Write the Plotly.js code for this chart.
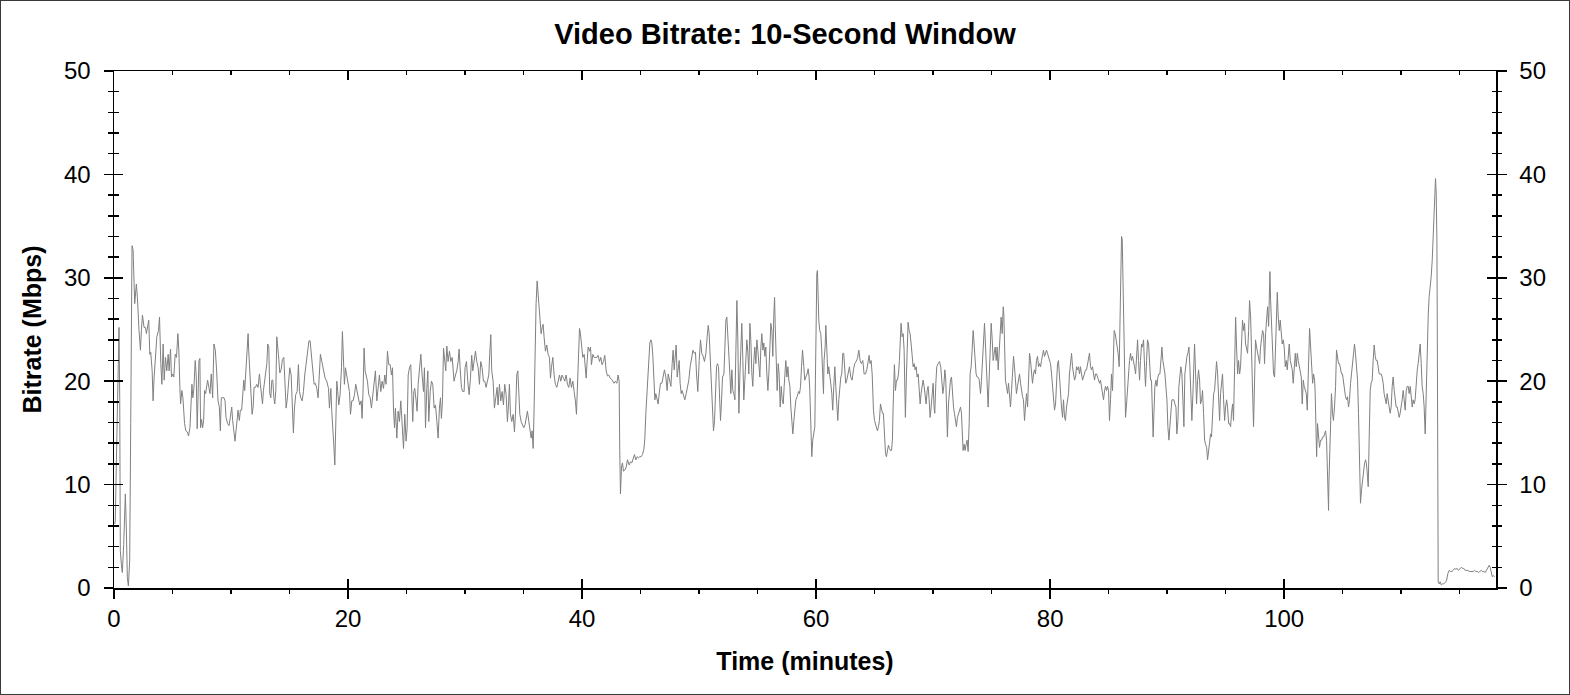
<!DOCTYPE html>
<html>
<head>
<meta charset="utf-8">
<script src="https://cdn.plot.ly/plotly-3.0.1.min.js"></script>
<style>
  body { margin: 0; background: #fff; }
  #chart { width: 1568px; height: 693px; border: 1px solid #3a3a3a; }
</style>
</head>
<body>
<div id="chart"></div>
<script>
// time in minutes, 10-second window bitrate in Mbps
var minutes = [
  0.06,0.11,0.2,0.34,0.43,0.49,0.54,0.63,0.71,0.83,0.97,1.06,1.14,1.23,1.34,1.43,1.54,1.63,1.77,1.91,2.0,2.14,2.26,2.34,2.43,2.57,2.69,2.77,2.89,2.97,3.06,3.14,3.26,3.34,3.43,3.54,3.66,3.8,3.89,4.0,4.09,4.2,4.29,4.4,4.51,4.63,4.71,4.83,4.91,5.03,5.11,5.23,5.34,5.46,5.54,5.63,5.69,5.8,5.89,6.03,6.14,6.26,6.37,6.49,6.57,6.66,6.74,6.83,6.94,7.03,7.11,7.17,7.26,7.34,7.4,7.49,7.57,7.66,7.74,7.83,7.91,8.0,8.11,8.2,8.31,8.43,8.54,8.66,8.77,8.89,9.0,9.09,9.17,9.29,9.4,9.49,9.57,9.71,9.83,9.94,10.06,10.14,10.23,10.34,10.43,10.51,10.6,10.71,10.8,10.91,11.0,11.09,11.17,11.26,11.37,11.46,11.51,11.6,11.69,11.8,11.89,11.97,12.09,12.2,12.31,12.43,12.51,12.6,12.69,12.77,12.89,12.97,13.06,13.14,13.23,13.31,13.4,13.49,13.57,13.66,13.74,13.83,13.91,
  14.05,14.17,14.28,14.39,14.51,14.59,14.71,14.82,14.91,15.02,15.14,15.22,15.33,15.42,15.53,15.65,15.76,15.85,15.96,16.08,16.19,16.30,16.42,16.53,16.66,16.76,16.87,16.99,17.10,17.21,17.33,17.44,17.56,17.64,17.76,17.90,18.04,18.18,18.33,18.41,18.53,18.61,18.70,18.78,18.87,18.95,19.04,19.12,19.21,19.32,19.44,19.52,19.61,19.69,19.78,19.89,20.01,20.12,20.21,20.32,20.43,20.55,20.66,20.78,20.89,21.00,21.12,21.20,21.29,21.37,21.46,21.55,21.66,21.77,21.89,22.00,22.12,22.23,22.34,22.46,22.57,22.68,22.80,22.91,23.03,23.14,23.25,23.37,23.48,23.60,23.71,23.80,23.88,23.97,24.05,24.17,24.28,24.39,24.51,24.62,24.74,24.85,24.96,25.05,25.14,25.25,25.36,25.45,25.53,25.62,25.70,25.82,25.90,25.99,26.10,26.22,26.33,26.45,26.53,26.62,26.73,26.82,26.90,27.02,27.13,27.24,27.36,27.47,27.59,27.70,27.81,27.90,27.98,28.07,28.16,28.27,28.35,28.44,28.55,28.67,28.78,28.90,
  29.06,29.18,29.29,29.41,29.49,29.58,29.69,29.80,29.92,30.0,30.12,30.23,30.35,30.46,30.57,30.66,30.77,30.89,31.0,31.12,31.23,31.34,31.46,31.57,31.69,31.8,31.91,32.03,32.11,32.2,32.28,32.4,32.51,32.63,32.74,32.82,32.94,33.05,33.17,33.28,33.39,33.51,33.62,33.71,33.79,33.88,33.99,34.11,34.22,34.31,34.42,34.51,34.59,34.68,34.79,34.9,35.02,35.13,35.25,35.33,35.45,35.56,35.65,35.73,35.82,35.9,35.99,36.07,36.16,36.24,36.33,36.41,36.5,36.59,36.67,36.76,36.87,36.98,37.1,37.21,37.3,37.38,37.5,37.61,37.72,37.84,37.95,38.07,38.18,38.29,38.41,38.52,38.64,38.75,38.86,38.98,39.09,39.21,39.32,39.43,39.52,39.6,39.69,39.78,39.86,39.95,40.06,40.18,40.26,40.35,40.43,40.52,40.63,40.72,40.8,40.92,41.03,41.14,41.26,41.37,41.49,41.6,41.71,41.83,41.94,42.06,42.17,42.28,42.4,42.51,42.63,42.74,42.85,42.97,43.08,43.17,43.22,43.28,43.37,43.45,43.54,43.65,43.77,43.88,
  44.02,44.14,44.25,44.37,44.48,44.59,44.71,44.82,44.94,45.05,45.16,45.28,45.36,45.45,45.53,45.62,45.7,45.79,45.88,45.96,46.05,46.13,46.22,46.3,46.42,46.5,46.59,46.7,46.82,46.93,47.04,47.16,47.27,47.36,47.47,47.59,47.7,47.78,47.87,47.96,48.04,48.13,48.21,48.3,48.38,48.47,48.55,48.67,48.78,48.9,49.01,49.12,49.24,49.35,49.47,49.58,49.69,49.78,49.89,50.01,50.12,50.23,50.35,50.46,50.58,50.69,50.78,50.86,50.95,51.06,51.15,51.23,51.32,51.4,51.49,51.57,51.66,51.74,51.83,51.92,52.0,52.12,52.2,52.29,52.37,52.46,52.54,52.63,52.71,52.8,52.88,52.97,53.06,53.14,53.23,53.31,53.4,53.48,53.57,53.65,53.74,53.82,53.91,53.99,54.08,54.17,54.25,54.34,54.42,54.51,54.59,54.68,54.76,54.85,54.94,55.02,55.11,55.19,55.28,55.36,55.45,55.53,55.62,55.7,55.79,55.88,55.96,56.05,56.13,56.22,56.3,56.39,56.45,56.5,56.59,56.67,56.76,56.84,56.93,57.02,57.1,57.19,57.27,57.36,57.41,57.5,57.59,57.67,57.76,57.84,57.93,58.01,58.1,58.18,58.27,58.38,58.5,58.58,58.67,58.75,58.84,
  58.95,59.03,59.12,59.23,59.32,59.4,59.46,59.52,59.57,59.63,59.71,59.8,59.89,59.94,60.0,60.06,60.11,60.17,60.23,60.31,60.4,60.48,60.57,60.63,60.68,60.77,60.83,60.91,61.0,61.08,61.17,61.25,61.34,61.42,61.51,61.6,61.68,61.77,61.85,61.94,62.02,62.11,62.19,62.28,62.36,62.45,62.53,62.62,62.73,62.85,62.96,63.08,63.19,63.3,63.42,63.53,63.65,63.76,63.87,63.99,64.1,64.22,64.33,64.44,64.53,64.61,64.7,64.79,64.84,64.9,64.99,65.07,65.16,65.24,65.33,65.41,65.5,65.58,65.67,65.75,65.84,65.93,66.01,66.1,66.18,66.27,66.35,66.44,66.52,66.58,66.64,66.69,66.78,66.87,66.95,67.04,67.12,67.21,67.26,67.35,67.44,67.52,67.58,67.63,67.72,67.81,67.86,67.95,68.03,68.12,68.2,68.29,68.38,68.46,68.55,68.63,68.72,68.8,68.89,68.97,69.06,69.14,69.23,69.32,69.4,69.49,69.57,69.66,69.74,69.83,69.91,70.0,70.08,70.14,70.23,70.31,70.43,70.54,70.65,70.74,70.83,70.91,71.0,71.08,71.17,71.22,71.31,71.4,71.48,71.57,71.65,71.74,71.82,71.91,71.99,72.08,72.16,72.25,72.34,72.42,72.48,72.56,72.65,72.73,72.82,72.9,72.99,73.08,73.16,73.25,73.33,73.42,73.5,73.59,73.67,73.76,
  73.82,73.93,74.05,74.13,74.22,74.3,74.39,74.48,74.56,74.65,74.7,74.79,74.87,74.96,75.05,75.13,75.22,75.3,75.39,75.47,75.56,75.64,75.73,75.81,75.9,75.99,76.04,76.1,76.18,76.27,76.36,76.44,76.53,76.61,76.7,76.78,76.87,76.95,77.04,77.12,77.21,77.3,77.38,77.47,77.55,77.64,77.72,77.81,77.89,77.98,78.07,78.15,78.24,78.32,78.41,78.49,78.58,78.66,78.75,78.83,78.92,79.01,79.09,79.18,79.26,79.35,79.43,79.52,79.6,79.69,79.77,79.86,79.95,80.03,80.12,80.2,80.29,80.37,80.46,80.54,80.63,80.71,80.8,80.89,80.97,81.06,81.14,81.23,81.31,81.4,81.48,81.57,81.65,81.74,81.83,81.91,82.0,82.08,82.17,82.25,82.34,82.42,82.51,82.59,82.68,82.77,82.85,82.94,83.02,83.11,83.19,83.28,83.36,83.45,83.53,83.62,83.71,83.79,83.88,83.96,84.05,84.13,84.22,84.3,84.39,84.48,84.56,84.65,84.73,84.82,84.9,84.99,85.07,85.16,85.24,85.33,85.42,85.47,85.56,85.64,85.73,85.81,85.9,85.99,86.04,86.1,86.16,86.21,86.27,86.33,86.38,86.44,86.53,86.61,86.7,86.78,86.87,86.95,87.04,87.12,87.21,87.3,87.38,87.47,87.55,87.64,87.72,87.81,87.89,87.98,88.07,88.15,88.24,88.32,88.41,88.49,88.58,88.66,88.75,
  88.8,88.87,88.95,89.04,89.12,89.21,89.29,89.38,89.46,89.55,89.63,89.72,89.81,89.89,89.98,90.06,90.15,90.23,90.32,90.4,90.49,90.57,90.66,90.75,90.83,90.92,91.0,91.09,91.17,91.26,91.34,91.43,91.51,91.6,91.69,91.77,91.86,91.94,92.03,92.11,92.2,92.28,92.34,92.43,92.51,92.6,92.68,92.77,92.85,92.94,93.02,93.11,93.2,93.28,93.37,93.45,93.54,93.62,93.71,93.79,93.88,93.97,94.05,94.14,94.22,94.31,94.39,94.48,94.56,94.65,94.73,94.82,94.91,94.99,95.08,95.16,95.25,95.33,95.42,95.5,95.59,95.67,95.76,95.85,95.93,96.02,96.1,96.19,96.27,96.36,96.44,96.53,96.61,96.7,96.79,96.87,96.96,97.04,97.13,97.21,97.3,97.38,97.47,97.55,97.64,97.73,97.81,97.9,97.98,98.07,98.15,98.24,98.32,98.41,98.5,98.58,98.67,98.72,98.78,98.84,98.92,99.01,99.09,99.18,99.26,99.35,99.41,99.49,99.58,99.66,99.75,99.83,99.92,100.0,100.09,100.18,100.26,100.35,100.43,100.52,100.6,100.69,100.77,100.86,100.95,101.03,101.12,101.2,101.29,101.37,101.46,101.54,101.63,101.71,101.8,101.89,101.97,102.06,102.11,102.17,102.26,102.34,102.43,102.51,102.6,102.65,102.71,102.77,102.85,102.94,103.02,103.11,103.2,103.28,103.37,103.45,103.54,103.62,103.71,103.79,
  103.82,103.9,103.99,104.04,104.13,104.21,104.3,104.39,104.47,104.56,104.64,104.73,104.81,104.9,104.98,105.07,105.15,105.24,105.33,105.41,105.5,105.58,105.67,105.75,105.84,105.92,106.01,106.09,106.18,106.27,106.35,106.44,106.52,106.61,106.69,106.78,106.86,106.95,107.03,107.12,107.18,107.26,107.35,107.43,107.52,107.6,107.69,107.78,107.86,107.95,108.03,108.12,108.2,108.29,108.37,108.46,108.54,108.63,108.72,108.8,108.89,108.97,109.06,109.14,109.23,109.31,109.4,109.49,109.57,109.66,109.74,109.83,109.91,110.0,110.08,110.17,110.25,110.34,110.43,110.51,110.6,110.68,110.77,110.85,110.94,111.02,111.11,111.19,111.28,111.37,111.45,111.54,111.62,111.71,111.79,111.88,111.96,112.05,112.13,112.22,112.31,112.39,112.48,112.56,112.65,112.73,112.82,112.88,112.93,112.99,113.05,113.08,113.1,113.13,113.16,113.25,113.33,113.42,113.53,113.64,113.76,113.87,113.99,114.1,114.21,114.33,114.44,114.56,114.67,114.78,114.9,115.01,115.13,115.24,115.35,115.47,115.58,115.7,115.81,115.92,116.04,116.15,116.27,116.38,116.49,116.61,116.72,116.84,116.95,117.06,117.18,117.29,117.41,117.52,117.6,117.69,117.78,117.86,117.98
];

var mbps = [
  6.2,6.5,12.0,21.7,25.2,18.4,3.6,2.3,1.5,4.2,9.1,5.5,1.0,0.2,2.6,15.9,33.1,32.7,27.5,29.4,28.1,24.9,23.0,24.9,26.4,25.2,25.2,24.6,25.2,25.9,22.6,22.8,21.0,18.1,20.4,22.0,24.3,24.9,26.2,21.7,19.7,23.6,20.1,22.3,21.0,22.6,21.0,23.1,20.4,20.7,20.4,22.6,22.3,24.6,23.0,19.4,17.8,19.1,18.4,15.9,15.2,15.1,14.7,15.5,17.2,19.7,18.4,19.3,22.0,20.4,15.4,19.1,22.0,22.2,15.5,16.3,15.5,16.2,19.1,18.8,19.7,20.1,19.4,18.8,20.7,18.4,23.6,23.0,21.0,18.1,17.5,15.2,18.4,18.4,18.4,18.1,16.5,15.9,15.7,16.5,17.5,16.2,14.9,14.2,15.2,15.9,17.2,16.2,17.2,17.2,18.4,20.1,19.1,21.0,23.6,24.6,23.0,21.0,19.4,16.8,17.5,19.4,19.4,19.7,19.4,20.7,19.7,18.4,17.8,19.1,20.4,20.7,21.7,23.6,23.3,18.8,18.4,20.1,20.1,18.4,17.8,19.1,24.3,
  22.6,20.8,21.1,22.1,22.3,20.0,17.4,18.4,20.3,21.3,20.6,17.7,15.0,17.4,18.7,19.0,21.6,19.0,18.4,18.1,19.0,20.6,21.6,22.9,23.9,23.9,22.3,20.6,19.7,19.8,19.3,18.4,21.3,22.6,21.9,21.0,20.3,20.0,19.3,17.4,19.3,17.1,15.8,13.9,11.9,15.5,20.0,19.0,17.7,18.7,21.3,24.8,22.6,19.7,21.3,20.6,19.7,19.0,16.8,18.1,18.1,18.7,19.7,19.0,18.1,17.7,18.1,16.4,19.3,23.2,21.0,20.6,20.0,18.7,18.4,17.4,18.7,19.7,21.0,18.1,19.3,20.6,19.0,20.0,19.3,20.6,19.7,22.9,21.6,21.6,20.6,21.3,17.4,15.5,17.4,14.5,17.1,16.1,18.1,15.1,13.5,16.8,14.2,15.5,20.6,21.3,21.6,18.7,16.1,19.0,19.3,18.1,17.1,19.7,21.0,22.6,20.6,19.0,21.3,15.5,19.3,21.0,16.1,19.0,20.0,19.7,17.4,17.7,16.1,14.5,17.4,18.4,16.4,18.1,23.2,21.9,21.0,23.4,21.9,22.9,21.9,22.3,
  20.0,20.6,21.0,21.9,23.1,21.3,19.4,19.0,19.0,21.3,21.9,20.0,18.7,20.3,22.5,21.0,21.9,22.9,21.9,21.3,19.7,21.9,21.3,20.0,20.0,19.4,20.0,20.6,22.7,24.5,21.0,20.0,17.4,18.7,19.4,17.7,19.7,18.1,19.0,17.7,19.7,18.7,16.1,17.7,19.7,16.8,16.1,16.8,15.1,16.8,20.6,21.0,19.0,16.8,16.1,15.8,15.5,15.8,16.8,17.1,16.1,15.2,14.5,15.2,13.5,17.4,24.2,27.5,29.7,28.5,27.2,25.9,24.6,25.2,25.5,24.2,22.9,23.5,22.6,22.3,20.3,21.3,22.3,20.6,19.7,19.4,20.0,20.6,20.0,20.6,20.3,20.0,20.6,19.7,19.4,20.3,19.4,20.0,19.0,18.1,16.8,19.7,23.6,25.1,24.6,23.3,22.3,22.6,21.3,20.3,21.9,23.3,22.9,23.3,21.6,22.6,22.3,22.3,22.3,22.5,21.9,22.3,21.6,21.9,22.5,21.0,20.5,20.6,20.3,20.2,20.0,19.8,20.0,19.8,20.6,20.0,13.3,9.1,11.7,12.1,11.3,11.4,11.7,12.4,
  11.9,12.2,12.1,12.6,12.9,12.4,12.7,12.6,12.7,12.7,12.9,13.4,14.4,16.9,18.8,20.7,22.0,23.7,24.0,23.7,22.4,20.1,18.2,18.8,18.2,17.8,18.8,19.8,19.8,20.7,21.1,20.4,19.1,20.7,20.1,19.5,21.7,23.0,21.1,22.7,23.5,20.4,21.4,22.0,19.8,18.8,19.1,18.5,18.2,18.8,19.5,20.1,21.4,22.4,23.0,22.7,22.8,20.7,19.0,22.0,24.0,22.7,22.4,21.9,22.7,24.3,25.4,24.6,22.0,19.1,16.5,15.2,16.2,19.1,21.4,21.7,21.4,18.8,16.2,18.2,20.4,20.7,22.7,25.9,26.2,24.6,23.3,20.7,18.8,21.1,19.1,18.8,18.2,22.0,27.8,24.0,16.9,20.4,24.3,25.6,22.0,18.2,20.1,22.0,24.0,22.7,20.7,25.6,24.0,20.7,19.5,22.0,23.3,21.7,24.0,23.0,22.0,20.4,23.3,24.6,23.0,23.7,22.4,23.3,20.7,19.1,20.7,23.3,25.6,24.9,22.4,26.5,28.1,25.6,21.7,19.1,21.7,20.7,17.5,19.5,18.2,17.8,19.5,20.7,22.0,20.4,21.4,20.1,19.5,17.5,16.2,14.9,16.2,17.2,18.2,18.5,19.0,18.8,19.5,21.4,23.0,
  21.4,20.1,20.4,20.7,21.2,20.4,19.1,16.2,14.3,12.7,14.3,14.9,15.6,20.1,26.5,30.4,30.7,27.8,25.9,24.9,24.6,23.0,20.7,18.8,22.0,23.3,25.4,22.0,20.7,21.4,20.7,19.8,18.8,17.2,19.5,21.4,19.5,17.5,16.2,18.2,19.5,20.4,20.7,22.7,22.7,20.7,19.8,20.1,20.7,21.4,20.4,20.1,21.1,21.7,21.9,22.2,23.0,22.0,21.7,22.0,20.7,20.7,21.1,22.0,22.5,21.7,22.0,20.7,18.8,17.2,16.2,15.9,15.6,15.2,15.6,16.2,17.8,17.2,16.9,16.9,14.9,13.0,12.7,13.3,13.8,13.5,13.3,13.3,14.3,17.5,19.5,21.6,19.1,20.1,20.1,20.7,22.0,24.0,25.6,24.3,24.6,23.0,20.4,16.5,20.7,24.9,25.7,24.9,24.6,23.6,22.0,21.4,21.7,21.1,21.4,20.4,20.7,19.1,17.8,18.8,19.8,20.1,19.5,18.5,17.8,19.1,19.5,18.2,16.5,17.5,19.1,19.8,17.5,16.9,19.8,21.4,21.7,21.9,21.4,20.1,18.8,19.5,21.1,20.1,17.5,14.6,17.8,19.5,20.1,20.4,18.8,17.5,16.9,16.2,15.6,16.5,16.9,17.2,17.5,16.9,14.9,13.3,13.9,13.3,13.9,14.3,13.2,15.9,20.7,21.4,23.0,24.9,23.6,22.0,20.7,20.4,
  20.4,20.2,18.8,20.1,22.0,24.0,25.6,23.3,20.7,18.8,17.5,20.4,23.3,25.6,24.0,22.0,22.7,23.3,22.0,23.3,21.1,23.3,24.6,26.2,24.6,27.2,26.5,23.3,20.1,19.5,18.8,19.8,18.2,17.5,19.1,20.7,22.4,21.4,19.5,18.8,19.5,20.4,20.7,19.8,19.1,18.5,18.2,16.2,17.5,18.8,17.5,20.1,22.7,22.0,21.1,19.8,20.7,21.1,20.7,22.0,22.4,21.4,21.7,21.4,22.0,22.7,23.0,22.4,22.7,23.0,22.7,22.4,22.0,21.7,20.7,19.5,17.5,17.2,17.8,19.8,21.7,22.0,20.1,18.8,17.5,16.5,18.2,16.5,16.2,17.5,18.2,18.8,20.7,22.0,22.7,21.4,20.7,20.1,20.4,21.4,21.1,21.4,20.7,21.4,20.7,20.1,20.4,20.7,21.1,21.1,21.7,22.4,22.7,21.4,21.1,21.4,20.7,20.1,20.7,20.7,20.4,20.1,19.8,20.1,19.5,18.8,18.2,19.1,19.5,19.1,19.5,19.1,16.2,18.2,20.7,19.1,22.0,24.9,24.6,24.0,23.3,22.7,21.4,26.5,30.4,34.0,33.7,30.4,25.6,22.0,19.5,16.5,17.8,19.5,20.7,22.0,22.7,22.0,22.4,22.0,21.4,20.7,22.7,24.0,22.0,20.1,22.0,23.6,23.3,24.0,21.4,19.5,22.0,24.0,23.6,21.4,20.1,20.1,16.9,
  14.6,16.9,19.5,20.1,19.5,20.4,20.7,20.7,22.0,23.3,22.0,21.4,20.7,19.5,18.2,15.6,14.3,15.6,16.9,18.2,18.2,18.2,17.8,17.5,14.9,16.2,19.5,20.7,21.4,20.7,17.5,15.6,20.7,22.0,22.4,22.7,23.3,21.4,18.8,16.2,18.8,22.0,23.6,20.7,17.8,20.1,21.1,20.1,17.8,18.2,19.1,16.9,14.3,13.9,13.6,12.4,13.3,14.6,14.9,14.6,16.9,18.8,19.1,20.7,21.9,20.7,18.2,16.2,18.8,20.1,20.7,18.2,16.2,17.5,18.2,17.5,15.9,15.9,15.6,16.9,17.8,16.2,20.7,26.2,23.3,20.7,22.0,20.7,21.4,24.0,25.9,24.9,25.6,23.6,23.0,22.7,24.9,27.8,26.2,23.3,19.5,15.6,20.1,24.0,23.3,22.7,22.0,21.7,23.3,24.0,24.9,24.6,21.7,24.6,26.5,27.2,25.3,29.1,30.6,27.8,25.9,23.0,20.7,20.4,24.0,28.2,28.6,26.2,24.9,25.9,24.6,23.6,24.0,23.3,21.4,22.0,21.1,22.7,23.6,22.0,21.4,21.1,19.8,21.4,22.7,21.4,22.7,22.0,21.4,21.1,20.4,17.8,20.1,19.5,19.1,18.8,17.2,20.1,22.0,25.1,23.3,21.4,19.8,20.7,20.1,18.8,16.2,12.7,15.9,14.9,13.6,14.3,14.3,14.6,14.6,14.9,15.2,14.3,11.1,7.5,
  10.1,13.6,16.9,18.8,16.9,16.2,17.5,19.5,23.0,22.4,21.7,21.7,21.1,20.7,20.7,19.8,19.1,18.5,18.2,18.5,17.5,18.2,19.8,20.7,21.7,22.7,23.6,22.7,21.7,20.1,16.9,12.7,8.2,9.5,10.4,11.1,12.0,12.4,12.0,10.8,9.8,14.3,19.1,19.8,20.1,22.0,23.5,22.4,22.0,22.0,21.4,20.7,20.7,20.7,20.4,19.8,18.8,18.2,17.8,18.8,17.8,17.5,16.9,17.5,19.5,20.4,19.1,18.2,17.5,17.5,16.9,16.5,16.9,17.5,18.2,19.1,17.8,17.2,19.1,19.5,19.5,18.8,19.5,18.8,17.5,18.2,17.8,18.2,20.4,21.1,21.7,22.7,23.6,21.7,19.5,18.8,17.5,14.9,19.5,24.3,26.5,28.2,29.1,30.1,31.7,34.3,36.9,38.5,39.6,38.2,33.6,25.9,17.5,7.8,0.6,0.4,0.6,0.3,0.4,0.4,0.6,0.7,1.4,1.7,1.6,1.6,1.7,1.9,1.8,1.9,1.7,1.9,2.0,1.9,1.9,1.7,1.7,1.7,1.6,1.6,1.6,1.6,1.7,1.6,1.6,1.5,1.6,1.7,1.6,1.6,1.5,1.7,1.9,2.2,2.0,1.4,1.1,1.2,1.1
];

var xTicks = [0, 20, 40, 60, 80, 100];
var yTicks = [0, 10, 20, 30, 40, 50];
var xRange = [0, 118.1];
var yRange = [0, 50];

var fontFam = 'Liberation Sans, Arial, sans-serif';

var trace = {
  x: minutes,
  y: mbps,
  type: 'scatter',
  mode: 'lines',
  line: { color: '#808080', width: 1 },
  hoverinfo: 'skip'
};

// empty traces so the overlaid tick-only axes get a subplot and are drawn
function holder(xa, ya) {
  return { x: [], y: [], type: 'scatter', mode: 'lines', xaxis: xa, yaxis: ya, hoverinfo: 'skip' };
}

// ticks that cross the axis line: an outside-tick axis plus an overlaid inside-tick axis
function tickAxis(extra) {
  var base = {
    showgrid: false,
    zeroline: false,
    ticklen: 9,
    tickwidth: 1.5,
    tickcolor: '#000',
    linecolor: '#000',
    linewidth: 1.5,
    tickfont: { family: fontFam, size: 24, color: '#000' }
  };
  for (var k in extra) base[k] = extra[k];
  return base;
}

var layout = {
  width: 1568,
  height: 693,
  margin: { l: 113, r: 73, t: 70, b: 106 },
  paper_bgcolor: '#fff',
  plot_bgcolor: '#fff',
  showlegend: false,
  font: { family: fontFam, color: '#000' },
  title: {
    text: 'Video Bitrate: 10-Second Window',
    font: { family: fontFam, size: 29, weight: 700, color: '#000' },
    x: 0.5, xref: 'container', xanchor: 'center',
    y: 1 - 33 / 693, yref: 'container', yanchor: 'middle'
  },
  xaxis: tickAxis({
    range: xRange, tickmode: 'array', tickvals: xTicks,
    ticks: 'outside', showline: true, side: 'bottom',
    minor: { dtick: 5, tick0: 0, ticks: 'outside', ticklen: 4, tickwidth: 1.5, tickcolor: '#000' },
    ticklabelstandoff: 0,
    title: { text: 'Time (minutes)', standoff: 21, font: { family: fontFam, size: 25, weight: 700, color: '#000' } }
  }),
  xaxis2: tickAxis({
    range: xRange, tickmode: 'array', tickvals: xTicks, overlaying: 'x', anchor: 'y',
    side: 'bottom', ticks: 'inside', showline: false, showticklabels: false
  }),
  xaxis3: tickAxis({
    range: xRange, tickmode: 'array', tickvals: xTicks, overlaying: 'x', anchor: 'y',
    side: 'top', ticks: 'inside', showline: true, showticklabels: false,
    minor: { dtick: 5, tick0: 0, ticks: 'inside', ticklen: 4, tickwidth: 1.5, tickcolor: '#000' }
  }),
  yaxis: tickAxis({
    range: yRange, tickmode: 'array', tickvals: yTicks,
    ticks: 'outside', showline: true, side: 'left',
    minor: { dtick: 2, tick0: 0, ticks: 'outside', ticklen: 4.5, tickwidth: 1.5, tickcolor: '#000' },
    ticklabelstandoff: 8,
    title: { text: 'Bitrate (Mbps)', standoff: 15, font: { family: fontFam, size: 25, weight: 700, color: '#000' } }
  }),
  yaxis2: tickAxis({
    range: yRange, tickmode: 'array', tickvals: yTicks, overlaying: 'y', anchor: 'x',
    side: 'left', ticks: 'inside', showline: false, showticklabels: false,
    minor: { dtick: 2, tick0: 0, ticks: 'inside', ticklen: 4.5, tickwidth: 1.5, tickcolor: '#000' }
  }),
  yaxis3: tickAxis({
    range: yRange, tickmode: 'array', tickvals: yTicks, overlaying: 'y', anchor: 'x',
    side: 'right', ticks: 'outside', showline: true, showticklabels: true,
    minor: { dtick: 2, tick0: 0, ticks: 'outside', ticklen: 4.5, tickwidth: 1.5, tickcolor: '#000' },
    ticklabelstandoff: 8
  }),
  yaxis4: tickAxis({
    range: yRange, tickmode: 'array', tickvals: yTicks, overlaying: 'y', anchor: 'x',
    side: 'right', ticks: 'inside', showline: false, showticklabels: false,
    minor: { dtick: 2, tick0: 0, ticks: 'inside', ticklen: 4.5, tickwidth: 1.5, tickcolor: '#000' }
  })
};

var data = [trace, holder('x2', 'y2'), holder('x3', 'y3'), holder('x', 'y4')];
Plotly.newPlot('chart', data, layout, { displayModeBar: false, staticPlot: true });
</script>
</body>
</html>
